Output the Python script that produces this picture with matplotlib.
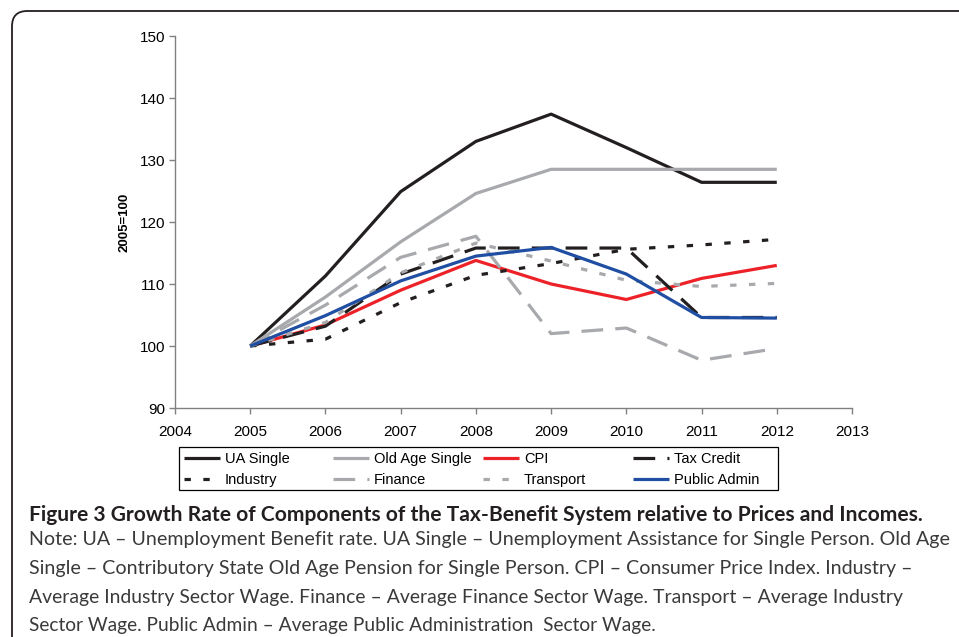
import matplotlib
matplotlib.use("Agg")
import matplotlib.pyplot as plt
from matplotlib.patches import FancyBboxPatch, Rectangle

# Values (2005 = 100)
years = [2005, 2006, 2007, 2008, 2009, 2010, 2011, 2012]

ua_single = [100, 111.3, 124.9, 133.0, 137.4, 132.0, 126.4, 126.4]
old_age_single = [100, 107.9, 116.8, 124.6, 128.5, 128.5, 128.5, 128.5]
cpi = [100, 103.4, 109.0, 113.8, 110.0, 107.5, 110.9, 113.0]
tax_credit = [100, 103.2, 111.6, 115.8, 115.8, 115.8, 104.6, 104.6]
industry = [100, 101.1, 107.0, 111.4, 113.3, 115.6, 116.3, 117.2]
finance = [100, 106.6, 114.3, 117.7, 102.0, 102.9, 97.7, 99.6]
transport = [100, 103.8, 111.8, 116.6, 113.7, 110.6, 109.6, 110.1]
public_admin = [100, 104.9, 110.5, 114.5, 115.9, 111.6, 104.6, 104.5]

x_ticks = list(range(2004, 2014))
y_ticks = list(range(90, 151, 10))

title = "Figure 3 Growth Rate of Components of the Tax-Benefit System relative to Prices and Incomes."
note_lines = [
    "Note: UA \u2013 Unemployment Benefit rate. UA Single \u2013 Unemployment Assistance for Single Person. Old Age",
    "Single \u2013 Contributory State Old Age Pension for Single Person. CPI \u2013 Consumer Price Index. Industry \u2013",
    "Average Industry Sector Wage. Finance \u2013 Average Finance Sector Wage. Transport \u2013 Average Industry",
    "Sector Wage. Public Admin \u2013 Average Public Administration  Sector Wage.",
]

BLACK = "#231f20"
GREY = "#a7a9ac"
RED = "#ed2229"
BLUE = "#1f4ea3"

W, H = 959, 637
fig = plt.figure(figsize=(W / 100, H / 100), dpi=100)
plt.rcParams["font.family"] = ["Liberation Sans", "DejaVu Sans"]

ax = fig.add_axes([175 / W, 1 - 408 / H, (852 - 175) / W, (408 - 36) / H])

lw = 2.3
long_dash = (0, (6.8, 3.8))
short_dash = (0, (2.0, 3.9))

series = [
    ("UA Single", ua_single, BLACK, "-"),
    ("Old Age Single", old_age_single, GREY, "-"),
    ("CPI", cpi, RED, "-"),
    ("Tax Credit", tax_credit, BLACK, long_dash),
    ("Industry", industry, BLACK, short_dash),
    ("Finance", finance, GREY, long_dash),
    ("Transport", transport, GREY, short_dash),
    ("Public Admin", public_admin, BLUE, "-"),
]

handles = {}
for name, vals, col, ls in series:
    line, = ax.plot(years, vals, color=col, linestyle=ls, lw=lw,
                    solid_capstyle="butt", dash_capstyle="butt")
    handles[name] = line
handles["Public Admin"].set_zorder(3)

ax.set_xlim(2004, 2013)
ax.set_ylim(90, 150)
ax.set_xticks(x_ticks)
ax.set_yticks(y_ticks)
for s in ["top", "right"]:
    ax.spines[s].set_visible(False)
for s in ["left", "bottom"]:
    ax.spines[s].set_color("#808080")
    ax.spines[s].set_linewidth(1.0)
ax.tick_params(axis="both", direction="out", length=4, width=1.0,
               color="#808080", labelsize=11, pad=3)
ax.tick_params(axis="x", pad=8)
ax.set_ylabel("2005=100", fontsize=9.5, fontweight="bold", labelpad=7)

# legend: four frameless columns at fixed positions inside one box
columns = [["UA Single", "Industry"], ["Old Age Single", "Finance"],
           ["CPI", "Transport"], ["Tax Credit", "Public Admin"]]
col_x = [184, 333, 483, 633]
for names, cx in zip(columns, col_x):
    fig.legend([handles[k] for k in names], names, loc="upper left",
               bbox_to_anchor=(cx / W, 1 - 452 / H), borderaxespad=0,
               borderpad=0, fontsize=10.5, frameon=False, handlelength=2.5,
               handletextpad=0.3, labelspacing=0.5)
fig.patches.append(Rectangle((179 / W, 1 - 490 / H), (778 - 179) / W, 43 / H,
                             transform=fig.transFigure, fill=False,
                             edgecolor="black", lw=0.9))

# caption, fitted to the width it takes in the original
renderer = fig.canvas.get_renderer()


def fit_text(x, y, s, width_px, **kw):
    t = fig.text(x / W, 1 - y / H, s, va="center", ha="left", fontsize=12, **kw)
    w = t.get_window_extent(renderer).width
    t.set_fontsize(12 * width_px / w)
    return t


cap_font = ["Lato", "DejaVu Sans"]
fit_text(29, 515, title, 888, family=cap_font, fontweight="bold", color="#231f20")
note_right = [946, 910, 903, 656]
note_y = [540, 568.5, 597, 625.5]
for s, r, y in zip(note_lines, note_right, note_y):
    fit_text(29, y, s, r - 29, family=cap_font, color="#3a3a3a")

# rounded outer frame (only top-left corner visible)
frame = FancyBboxPatch((12 / W, -0.2), 1.2, 1.2 - 11 / H,
                       boxstyle="round,pad=0,rounding_size=0.016",
                       transform=fig.transFigure, fill=False,
                       edgecolor=BLACK, lw=1.3, clip_on=False,
                       mutation_aspect=W / H)
fig.patches.append(frame)

fig.savefig("out.png", dpi=100)
